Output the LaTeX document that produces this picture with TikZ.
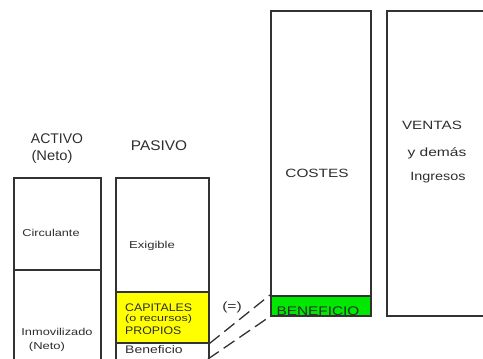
\documentclass[tikz,border=0pt]{standalone}
\usepackage{fontspec}
\setmainfont{Liberation Sans}
\usepackage{graphicx}
\definecolor{benefgreen}{RGB}{0,232,0}
\definecolor{capyellow}{RGB}{255,255,0}
\definecolor{txt}{RGB}{45,45,50}
\definecolor{edge}{RGB}{50,50,50}
\newcommand{\st}[3]{{\fontsize{#1}{#1}\selectfont\scalebox{#2}[1]{#3}}}
\begin{document}
\begin{tikzpicture}[x=1pt,y=-1pt,
  box/.style={draw=edge,line width=1.5pt,rectangle,inner sep=0pt,anchor=north west},
  lbl/.style={inner sep=0pt,text=txt},
  conn/.style={draw=edge,line width=1.3pt,dash pattern=on 13pt off 6pt}]
\useasboundingbox (0,0) rectangle (483,359);
\begin{scope}
\clip (0,0) rectangle (483,359);
% ACTIVO column
\node[box,minimum width=87pt,minimum height=200pt] (act) at (13,177) {};
\draw[draw=edge,line width=1.5pt] (13,270) -- (100,270);
% PASIVO column
\node[box,minimum width=93pt,minimum height=200pt] (pas) at (115,177) {};
\node[box,fill=capyellow,minimum width=93pt,minimum height=51pt] (cap) at (115,291) {};
% COSTES column
\node[box,minimum width=100pt,minimum height=305pt] (cos) at (270,10) {};
\node[box,fill=benefgreen,minimum width=100pt,minimum height=20pt] (ben) at (270,295) {};
% VENTAS column
\node[box,minimum width=120pt,minimum height=305pt] (ven) at (386,10) {};
% BENEFICIO text clipped to green box
\begin{scope}
\clip (270,295) rectangle (370,315);
\node[lbl,anchor=base] (bentext) at (318,315.5) {\st{12.5}{1.23}{BENEFICIO}};
\end{scope}
% connectors
\coordinate (c2) at (208,359);
\draw[conn] (cap.south east) -- (ben.north west);
\draw[conn] (c2) -- (ben.south west);
\end{scope}
% labels
\node[lbl] (activo) at (57,139) {\st{14}{1.0}{ACTIVO}};
\node[lbl] (neto1) at (52,157) {\st{14}{1.05}{(Neto)}};
\node[lbl] (pasivo) at (159,146) {\st{14}{1.1}{PASIVO}};
\node[lbl] (circ) at (51,233) {\st{10}{1.27}{Circulante}};
\node[lbl] (exig) at (152,246) {\st{10}{1.31}{Exigible}};
\node[lbl] (inmov) at (57,332) {\st{10}{1.28}{Inmovilizado}};
\node[lbl] (neto2) at (47,347) {\st{10}{1.3}{(Neto)}};
\node[lbl,anchor=west] (capt) at (125,308) {\st{11}{1.12}{CAPITALES}};
\node[lbl,anchor=west] (recur) at (125,319.5) {\st{9.5}{1.32}{(o recursos)}};
\node[lbl,anchor=west] (prop) at (125,331) {\st{11}{1.12}{PROPIOS}};
\node[lbl,anchor=west] (benf) at (125,350) {\st{11}{1.27}{Beneficio}};
\node[lbl] (igual) at (232,307) {\st{12}{1.3}{(=)}};
\node[lbl] (costes) at (317,173) {\st{12}{1.28}{COSTES}};
\node[lbl] (ventas) at (432,125) {\st{12}{1.27}{VENTAS}};
\node[lbl] (ydemas) at (437,153) {\st{12}{1.3}{y demás}};
\node[lbl] (ingr) at (438,178) {\st{12}{1.2}{Ingresos}};
\end{tikzpicture}
\end{document}
